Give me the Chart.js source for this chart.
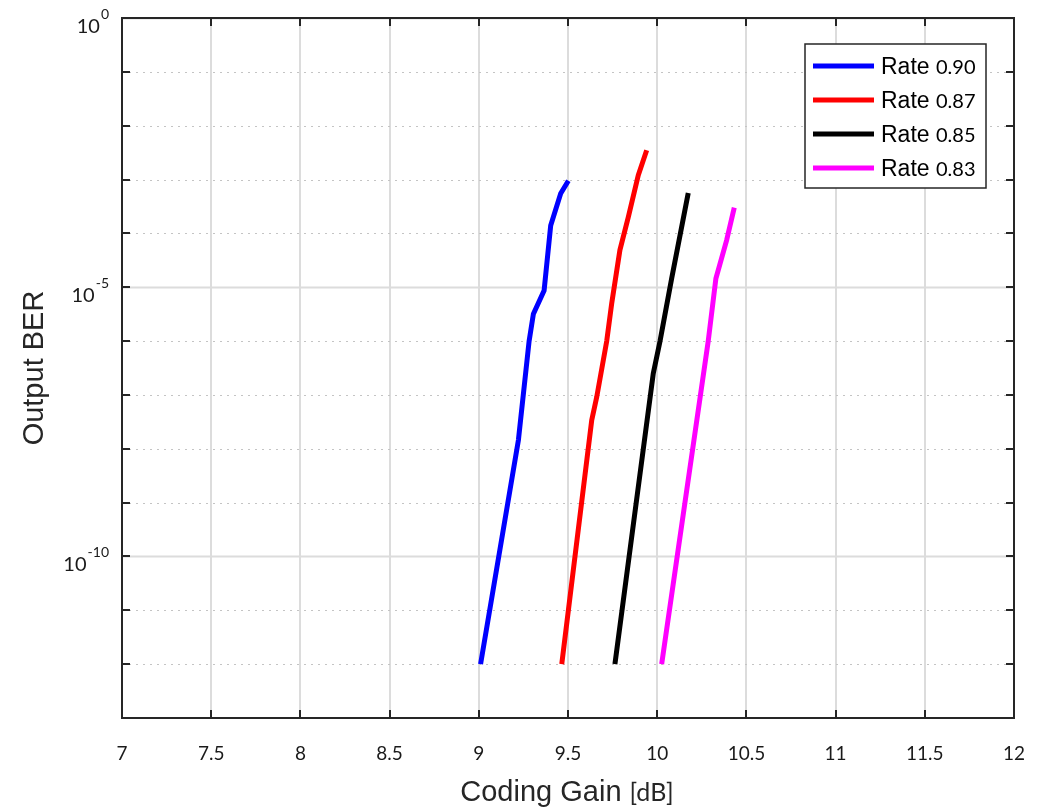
<!DOCTYPE html>
<html>
<head>
<meta charset="utf-8">
<script src="https://cdn.jsdelivr.net/npm/chart.js@4.4.0/dist/chart.umd.min.js"></script>
<style>
  html, body { margin: 0; padding: 0; background: #fff; }
  #wrap { width: 1041px; height: 809px; }
</style>
</head>
<body>
<div id="wrap"><canvas id="berChart" width="1041" height="809"></canvas></div>
<script>
// Data
const rateLabels = ['0.90', '0.87', '0.85', '0.83'];
const rateColors = ['#0000ff', '#ff0000', '#000000', '#ff00ff'];

const gain090 = [9.01, 9.222, 9.282, 9.306, 9.366, 9.403, 9.459, 9.502];
const ber090  = [1e-12, 1.45e-8, 1.0e-6, 3.2e-6, 8.7e-6, 1.4e-4, 5.5e-4, 9.5e-4];

const gain087 = [9.465, 9.633, 9.661, 9.717, 9.745, 9.791, 9.838, 9.894, 9.941];
const ber087  = [1e-12, 3.4e-8, 9.1e-8, 1.0e-6, 5.0e-6, 4.9e-5, 2.0e-4, 1.2e-3, 3.5e-3];

const gain085 = [9.763, 9.978, 10.016, 10.081, 10.174];
const ber085  = [1e-12, 2.5e-7, 1.0e-6, 1.45e-5, 5.6e-4];

const gain083 = [10.025, 10.286, 10.329, 10.389, 10.432];
const ber083  = [1e-12, 1.0e-6, 1.45e-5, 7.4e-5, 3.0e-4];

const xTicks = [7, 7.5, 8, 8.5, 9, 9.5, 10, 10.5, 11, 11.5, 12];
const yTicks = [1, 1e-1, 1e-2, 1e-3, 1e-4, 1e-5, 1e-6, 1e-7, 1e-8, 1e-9, 1e-10, 1e-11, 1e-12, 1e-13];
const yMajor = [1, 1e-5, 1e-10];
const yMajorExp = ['0', '-5', '-10'];

const tickFont = 'Lato, "DejaVu Sans", sans-serif';
const labelFont = '"Liberation Sans", Arial, sans-serif';

function toPoints(xs, ys) {
  return xs.map((x, i) => ({ x: x, y: ys[i] }));
}

const series = [
  toPoints(gain090, ber090),
  toPoints(gain087, ber087),
  toPoints(gain085, ber085),
  toPoints(gain083, ber083)
];

// Grid, frame, tick marks and labels drawn against the chart scales
const axesPlugin = {
  id: 'matlabAxes',
  beforeDatasetsDraw(chart) {
    const ctx = chart.ctx;
    const area = chart.chartArea;
    const xs = chart.scales.x;
    const ys = chart.scales.y;
    ctx.save();
    // vertical grid
    ctx.strokeStyle = '#dcdcdc';
    ctx.lineWidth = 2;
    xTicks.forEach(v => {
      const px = Math.round(xs.getPixelForValue(v));
      ctx.beginPath();
      ctx.moveTo(px, area.top);
      ctx.lineTo(px, area.bottom);
      ctx.stroke();
    });
    // horizontal grid
    yTicks.forEach(v => {
      const py = Math.round(ys.getPixelForValue(v));
      if (yMajor.includes(v)) {
        ctx.setLineDash([]);
        ctx.strokeStyle = '#dcdcdc';
        ctx.lineWidth = 2;
      } else {
        ctx.setLineDash([2, 5]);
        ctx.strokeStyle = '#c4c4c4';
        ctx.lineWidth = 1;
      }
      ctx.beginPath();
      ctx.moveTo(area.left, py + 0.5);
      ctx.lineTo(area.right, py + 0.5);
      ctx.stroke();
    });
    ctx.restore();
  },
  afterDatasetsDraw(chart) {
    const ctx = chart.ctx;
    const area = chart.chartArea;
    const xs = chart.scales.x;
    const ys = chart.scales.y;
    const tickLen = 8;
    ctx.save();
    ctx.strokeStyle = '#262626';
    ctx.lineWidth = 2;
    ctx.strokeRect(area.left, area.top, area.right - area.left, area.bottom - area.top);
    ctx.beginPath();
    xTicks.forEach(v => {
      const px = Math.round(xs.getPixelForValue(v));
      ctx.moveTo(px, area.bottom);
      ctx.lineTo(px, area.bottom - tickLen);
      ctx.moveTo(px, area.top);
      ctx.lineTo(px, area.top + tickLen);
    });
    yTicks.forEach(v => {
      const py = Math.round(ys.getPixelForValue(v));
      ctx.moveTo(area.left, py);
      ctx.lineTo(area.left + tickLen, py);
      ctx.moveTo(area.right, py);
      ctx.lineTo(area.right - tickLen, py);
    });
    ctx.stroke();

    // x tick labels
    ctx.fillStyle = '#1a1a1a';
    ctx.font = '19px ' + tickFont;
    ctx.textAlign = 'center';
    ctx.textBaseline = 'alphabetic';
    xTicks.forEach(v => {
      ctx.fillText(String(v), xs.getPixelForValue(v), area.bottom + 42);
    });

    // y tick labels: 10 with superscript exponent
    yMajor.forEach((v, i) => {
      const py = ys.getPixelForValue(v);
      ctx.font = '14px ' + tickFont;
      ctx.textAlign = 'right';
      ctx.fillText(yMajorExp[i], 109, py + 1);
      const expW = ctx.measureText(yMajorExp[i]).width;
      ctx.font = '20px ' + tickFont;
      ctx.fillText('10', 109 - expW - 1, py + 15);
    });

    // axis titles
    ctx.fillStyle = '#262626';
    ctx.font = '29px ' + labelFont;
    ctx.textAlign = 'left';
    const mainW = ctx.measureText('Coding Gain ').width;
    ctx.font = '25px ' + tickFont;
    const unitW = ctx.measureText('[dB]').width;
    const startX = 567 - (mainW + unitW) / 2;
    ctx.font = '29px ' + labelFont;
    ctx.fillText('Coding Gain ', startX, 801);
    ctx.font = '25px ' + tickFont;
    ctx.fillText('[dB]', startX + mainW, 801);

    ctx.save();
    ctx.translate(43, 368);
    ctx.rotate(-Math.PI / 2);
    ctx.font = '29px ' + labelFont;
    ctx.textAlign = 'center';
    ctx.fillText('Output BER', 0, 0);
    ctx.restore();

    // legend
    const box = { left: 805, top: 44, w: 181, h: 144 };
    ctx.fillStyle = '#ffffff';
    ctx.fillRect(box.left, box.top, box.w, box.h);
    ctx.strokeStyle = '#262626';
    ctx.lineWidth = 1.5;
    ctx.strokeRect(box.left, box.top, box.w, box.h);
    chart.data.datasets.forEach((ds, i) => {
      const rowY = 66 + i * 34;
      ctx.strokeStyle = ds.borderColor;
      ctx.lineWidth = 5;
      ctx.beginPath();
      ctx.moveTo(813, rowY);
      ctx.lineTo(874, rowY);
      ctx.stroke();
      ctx.fillStyle = '#000';
      ctx.textAlign = 'left';
      ctx.font = '23px ' + labelFont;
      ctx.fillText('Rate ', 881, rowY + 8);
      const rw = ctx.measureText('Rate ').width;
      ctx.font = '20px ' + tickFont;
      ctx.fillText(rateLabels[i], 881 + rw, rowY + 8);
    });
    ctx.restore();
  }
};

new Chart(document.getElementById('berChart'), {
  type: 'line',
  data: {
    datasets: series.map((pts, i) => ({
      label: 'Rate ' + rateLabels[i],
      data: pts,
      borderColor: rateColors[i],
      backgroundColor: rateColors[i],
      borderWidth: 5,
      pointRadius: 0,
      tension: 0,
      fill: false
    }))
  },
  options: {
    responsive: false,
    animation: false,
    devicePixelRatio: 1,
    layout: { padding: { top: 18, right: 27, left: 0, bottom: 0 } },
    plugins: {
      legend: { display: false },
      tooltip: { enabled: false }
    },
    scales: {
      x: {
        type: 'linear',
        min: 7,
        max: 12,
        grid: { display: false },
        border: { display: false },
        ticks: { display: false },
        afterFit(scale) { scale.height = 91; }
      },
      y: {
        type: 'logarithmic',
        min: 1e-13,
        max: 1,
        grid: { display: false },
        border: { display: false },
        ticks: { display: false },
        afterFit(scale) { scale.width = 122; }
      }
    }
  },
  plugins: [axesPlugin]
});
</script>
</body>
</html>
